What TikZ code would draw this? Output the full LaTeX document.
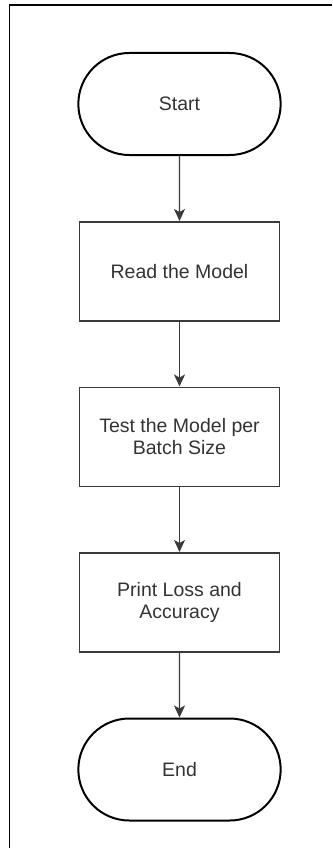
\documentclass[tikz,border=0pt]{standalone}
\usepackage{fontspec}
\setmainfont{Liberation Sans}
\usetikzlibrary{arrows.meta,positioning,shapes.misc}
\def \medY {65pt}
\definecolor{linegray}{HTML}{3A3A3A}
\definecolor{textgray}{HTML}{333333}
\tikzset{
 	termblock/.style= {draw=black, line width=2pt, rounded rectangle, align=center, minimum width=209pt, minimum height=102pt, text=textgray, font=\fontsize{19.5}{22}\selectfont},
 	block/.style= {draw=linegray, line width=1.5pt, rectangle, align=center, minimum width=200pt, minimum height=99pt, text=textgray, font=\fontsize{19.5}{22}\selectfont},
 	flow/.style= {draw=linegray, line width=1.2pt, -{Stealth[length=12pt,width=11pt,inset=3pt]}}
 }
\begin{document}
\begin{tikzpicture}[x=1pt,y=1pt]
	\useasboundingbox (0,0) rectangle (332,-848);

%%%%%%%%%%%%%%%%%%%%% Frame %%%%%%%%%%%%%%%%%%%%%
	\draw [line width=1.5pt] (9.5,-848) |- (332,-5);

%%%%%%%%%%%%%%%%%%%%% Nodes %%%%%%%%%%%%%%%%%%%%%
	\node [termblock] at (179.5,-104) (start) {Start};
    \node [block, below = \medY of start] (read) {Read the Model};
    \node [block, below = \medY of read] (test) {Test the Model per\\Batch Size};
    \node [block, below = \medY of test] (print) {Print Loss and\\Accuracy};
    \node [termblock, below = \medY of print] (end) {End};

%%%%%%%%%%%%%%%%%%%%% Arrows %%%%%%%%%%%%%%%%%%%%%
    \draw [flow] (start) -- (read);
    \draw [flow] (read) -- (test);
    \draw [flow] (test) -- (print);
    \draw [flow] (print) -- (end);

\end{tikzpicture}
\end{document}
